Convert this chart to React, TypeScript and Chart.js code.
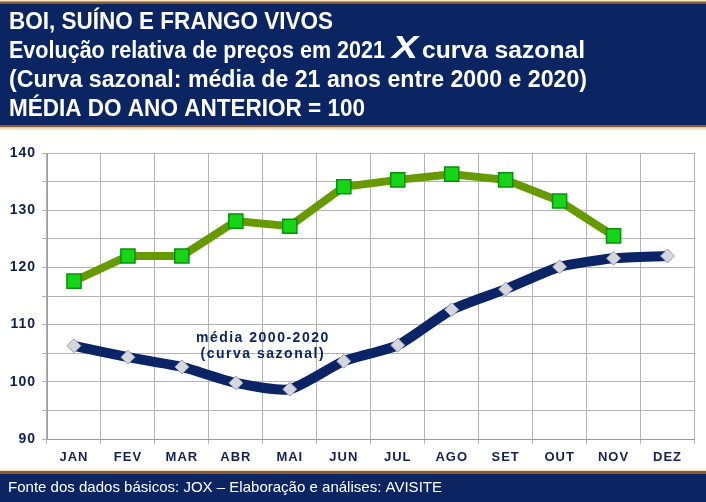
import React, { useEffect, useRef } from "react";
import { Chart, registerables } from "chart.js";

Chart.register(...registerables);

const MONTHS = ["JAN", "FEV", "MAR", "ABR", "MAI", "JUN", "JUL", "AGO", "SET", "OUT", "NOV", "DEZ"];
const PRICES_2021 = [117.6, 122.0, 122.0, 128.1, 127.2, 134.1, 135.3, 136.3, 135.3, 131.6, 125.5, null];
const SEASONAL_CURVE = [106.3, 104.3, 102.6, 99.8, 98.7, 103.6, 106.4, 112.6, 116.2, 120.1, 121.6, 122.0];
const Y_MIN = 90;
const Y_MAX = 140;
const Y_STEP = 5;
const TITLE_LINES = [
  "BOI, SUÍNO E FRANGO VIVOS",
  "Evolução relativa de preços em 2021",
  "curva sazonal",
  "(Curva sazonal: média de 21 anos entre 2000 e 2020)",
  "MÉDIA DO ANO ANTERIOR = 100",
];
const FOOTER = "Fonte dos dados básicos: JOX – Elaboração e análises: AVISITE";
const ANNOTATION = ["média 2000-2020", "(curva sazonal)"];
const ANNOTATION_POS = { x: 3.5, y1: 107.6, y2: 104.8 };

const NAVY = "#0b2462";
const BROWN = "#8a5a30";
const CREAM = "#f4e4c6";
const FONT = "'Liberation Sans', Arial, sans-serif";

function fitText(ctx: CanvasRenderingContext2D, text: string, x: number, y: number, width: number, font: string) {
  ctx.font = font;
  const w = ctx.measureText(text).width;
  ctx.save();
  ctx.translate(x, y);
  ctx.scale(width / w, 1);
  ctx.textAlign = "left";
  ctx.textBaseline = "alphabetic";
  ctx.fillText(text, 0, 0);
  ctx.restore();
}

const framePlugin = {
  id: "frame",
  beforeDraw(chart: any) {
    const ctx: CanvasRenderingContext2D = chart.ctx;
    const W = chart.width;
    const H = chart.height;
    ctx.save();
    (ctx as any).letterSpacing = "0px";
    ctx.fillStyle = "#ffffff";
    ctx.fillRect(0, 0, W, H);
    // header
    ctx.fillStyle = CREAM;
    ctx.fillRect(0, 0, W, 2);
    ctx.fillStyle = BROWN;
    ctx.fillRect(0, 1.5, W, 2.5);
    ctx.fillStyle = NAVY;
    ctx.fillRect(0, 4, W, 121);
    ctx.fillStyle = BROWN;
    ctx.fillRect(0, 125, W, 2.5);
    ctx.fillStyle = CREAM;
    ctx.fillRect(0, 127.5, W, 2.5);
    // footer
    ctx.fillStyle = CREAM;
    ctx.fillRect(0, 469.5, W, 1.5);
    ctx.fillStyle = BROWN;
    ctx.fillRect(0, 471, W, 2.5);
    ctx.fillStyle = NAVY;
    ctx.fillRect(0, 473.5, W, H - 473.5);

    ctx.fillStyle = "#ffffff";
    const bold = `bold 23px ${FONT}`;
    fitText(ctx, TITLE_LINES[0], 9, 29, 324, bold);
    fitText(ctx, TITLE_LINES[1], 9, 58, 376, bold);
    fitText(ctx, "X", 392, 58, 26, `italic bold 31px ${FONT}`);
    fitText(ctx, TITLE_LINES[2], 422, 58, 163, bold);
    fitText(ctx, TITLE_LINES[3], 9, 87, 578, bold);
    fitText(ctx, TITLE_LINES[4], 9, 116, 356, bold);
    fitText(ctx, FOOTER, 8, 492, 434, `15px ${FONT}`);
    ctx.restore();
    (ctx as any).letterSpacing = "1px";
  },
  afterDatasetsDraw(chart: any) {
    const ctx: CanvasRenderingContext2D = chart.ctx;
    const xs = chart.scales.x;
    const ys = chart.scales.y;
    ctx.save();
    (ctx as any).letterSpacing = "1.5px";
    ctx.fillStyle = NAVY;
    ctx.font = `bold 14px ${FONT}`;
    ctx.textAlign = "center";
    ctx.textBaseline = "middle";
    const px = xs.getPixelForValue(ANNOTATION_POS.x);
    ctx.fillText(ANNOTATION[0], px, ys.getPixelForValue(ANNOTATION_POS.y1));
    ctx.fillText(ANNOTATION[1], px, ys.getPixelForValue(ANNOTATION_POS.y2));
    ctx.restore();
  },
};

export default function App() {
  const ref = useRef<HTMLCanvasElement>(null);
  useEffect(() => {
    if (!ref.current) return;
    const chart = new Chart(ref.current, {
      type: "line",
      data: {
        labels: MONTHS,
        datasets: [
          {
            label: "2021",
            data: PRICES_2021,
            borderColor: "#669a00",
            borderWidth: 8,
            tension: 0,
            pointStyle: "rect",
            pointRadius: 10,
            pointBackgroundColor: "#16d416",
            pointBorderColor: "#0b8f0b",
            pointBorderWidth: 1.5,
            spanGaps: false,
          },
          {
            label: "média 2000-2020",
            data: SEASONAL_CURVE,
            borderColor: "#0b2466",
            borderWidth: 10,
            tension: 0.2,
            pointStyle: "rectRot",
            pointRadius: 7,
            pointBackgroundColor: "#d6d6de",
            pointBorderColor: "#9a9aa8",
            pointBorderWidth: 1,
          },
        ],
      },
      options: {
        responsive: false,
        animation: false,
        events: [],
        layout: { padding: { top: 153, bottom: 32, left: 0, right: 4 } },
        plugins: { legend: { display: false }, tooltip: { enabled: false } },
        scales: {
          x: {
            offset: true,
            grid: { offset: true, color: "#b3b3b3", lineWidth: 1, tickLength: 5, drawTicks: true },
            border: { color: "#9a9a9a", width: 1 },
            ticks: { color: "#14214f", font: { family: FONT, size: 13, weight: "bold" }, padding: 6, maxRotation: 0, autoSkip: false },
            afterFit(scale: any) { scale.height = 31; },
          },
          y: {
            min: Y_MIN,
            max: Y_MAX,
            grid: { color: "#b3b3b3", lineWidth: 1, tickLength: 5 },
            border: { color: "#9a9a9a", width: 1 },
            ticks: {
              stepSize: Y_STEP,
              color: "#0c1f50",
              font: { family: FONT, size: 14, weight: "bold" },
              padding: 6,
              callback: (v: any) => (Number(v) % 10 === 0 ? String(v) : ""),
            },
            afterFit(scale: any) { scale.width = 47; },
          },
        },
      } as any,
      plugins: [framePlugin],
    });
    return () => chart.destroy();
  }, []);
  return (
    <div style={{ position: "fixed", left: 0, top: 0, width: 706, height: 502, background: "#fff" }}>
      <canvas ref={ref} width={706} height={502} style={{ display: "block", width: 706, height: 502 }} />
    </div>
  );
}
